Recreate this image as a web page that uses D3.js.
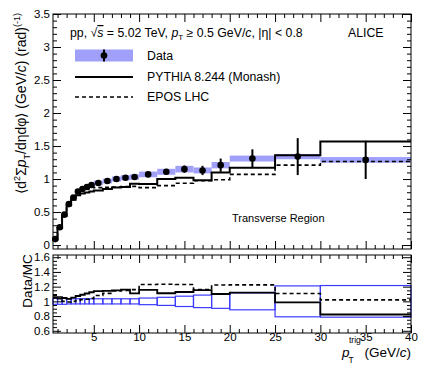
<!DOCTYPE html>
<html>
<head>
<meta charset="utf-8">
<script src="https://cdn.jsdelivr.net/npm/d3@7"></script>
<style>
body { margin: 0; background: #fff; }
svg { font-family: "Liberation Sans", Arial, sans-serif; }
</style>
</head>
<body>
<svg id="chart" width="431" height="371"></svg>
<script>
// pT(trig) bins, GeV/c
var binEdges = [0.5, 1, 1.5, 2, 2.5, 3, 3.5, 4, 4.5, 5, 6, 7, 8, 9, 10, 12, 14, 16, 18, 20, 25, 30, 40];

// data, transverse region
var dataVals = [0.09, 0.27, 0.46, 0.62, 0.72, 0.81, 0.85, 0.88, 0.91, 0.94, 0.97, 1.0, 1.02, 1.03, 1.07, 1.11, 1.15, 1.13, 1.21, 1.31, 1.34, 1.29];
var dataStat = [0.004, 0.004, 0.004, 0.004, 0.004, 0.005, 0.005, 0.006, 0.007, 0.007, 0.009, 0.011, 0.013, 0.016, 0.02, 0.04, 0.055, 0.07, 0.1, 0.14, 0.28, 0.29];
var dataSys = [0.01, 0.012, 0.015, 0.02, 0.022, 0.025, 0.028, 0.03, 0.032, 0.035, 0.036, 0.038, 0.04, 0.04, 0.043, 0.045, 0.05, 0.045, 0.048, 0.045, 0.04, 0.043];

// models
var pythiaVals = [0.085, 0.26, 0.44, 0.60, 0.685, 0.755, 0.78, 0.795, 0.81, 0.825, 0.85, 0.87, 0.88, 0.93, 0.925, 1.0, 1.02, 0.98, 1.10, 1.17, 1.36, 1.57];
var eposVals = [0.083, 0.255, 0.46, 0.625, 0.72, 0.80, 0.83, 0.855, 0.875, 0.87, 0.875, 0.877, 0.887, 0.888, 0.87, 0.90, 0.935, 0.975, 0.99, 1.07, 1.21, 1.265];

// relative total uncertainty shown in ratio panel
var ratioUnc = [0.04, 0.04, 0.04, 0.035, 0.035, 0.035, 0.035, 0.035, 0.035, 0.035, 0.035, 0.035, 0.035, 0.035, 0.045, 0.055, 0.07, 0.085, 0.095, 0.115, 0.21, 0.215];

var mainYTicks = [0, 0.5, 1, 1.5, 2, 2.5, 3, 3.5];
var mainYLabels = ["0", "0.5", "1", "1.5", "2", "2.5", "3", "3.5"];
var ratioYTicks = [0.6, 0.8, 1, 1.2, 1.4, 1.6];
var ratioYLabels = ["0.6", "0.8", "1", "1.2", "1.4", "1.6"];
var xTicks = [5, 10, 15, 20, 25, 30, 35, 40];
var xLabels = ["5", "10", "15", "20", "25", "30", "35", "40"];

var left = 53, right = 411;
var mainTop = 14, mainBottom = 249;
var ratioTop = 255, ratioBottom = 333;

var svg = d3.select("#chart");

var x = d3.scaleLinear().domain([0.5, 40]).range([left, right]);
var yMain = d3.scaleLinear().domain([-0.06, 3.5]).range([mainBottom, mainTop]);
var yRatio = d3.scaleLinear().domain([0.57, 1.63]).range([ratioBottom, ratioTop]);

var bins = dataVals.map((v, i) => ({
    x0: binEdges[i], x1: binEdges[i + 1], xc: (binEdges[i] + binEdges[i + 1]) / 2,
    val: v, stat: dataStat[i], sys: dataSys[i],
    py: pythiaVals[i], ep: eposVals[i], unc: ratioUnc[i]
}));

function stepPoints(vals) {
    var pts = vals.map((v, i) => [binEdges[i], v]);
    pts.push([binEdges[binEdges.length - 1], vals[vals.length - 1]]);
    return pts;
}

// ---- axes helper
function ticks(g, axis) {
    g.call(axis);
    g.select(".domain").remove();
    g.selectAll("line").attr("stroke", "#000");
    g.selectAll("text").attr("fill", "#000").style("font-size", "11.5px");
}

function panelAxes(yScale, top, bottom, yTicks, yLabels, yMinor, showX) {
    // left
    ticks(svg.append("g").attr("transform", `translate(${left},0)`),
        d3.axisLeft(yScale).tickValues(yTicks).tickSize(-8).tickPadding(3)
            .tickFormat((d, i) => yLabels[i]));
    ticks(svg.append("g").attr("transform", `translate(${left},0)`),
        d3.axisLeft(yScale).tickValues(yMinor).tickSize(-4).tickFormat(""));
    // right
    ticks(svg.append("g").attr("transform", `translate(${right},0)`),
        d3.axisRight(yScale).tickValues(yTicks).tickSize(-8).tickFormat(""));
    ticks(svg.append("g").attr("transform", `translate(${right},0)`),
        d3.axisRight(yScale).tickValues(yMinor).tickSize(-4).tickFormat(""));
    var xMinor = d3.range(1, 40).filter(v => v % 5 !== 0);
    // bottom
    ticks(svg.append("g").attr("transform", `translate(0,${bottom})`),
        d3.axisBottom(x).tickValues(xTicks).tickSize(-8).tickPadding(0)
            .tickFormat((d, i) => showX ? xLabels[i] : ""));
    ticks(svg.append("g").attr("transform", `translate(0,${bottom})`),
        d3.axisBottom(x).tickValues(xMinor).tickSize(-4).tickFormat(""));
    // top
    ticks(svg.append("g").attr("transform", `translate(0,${top})`),
        d3.axisTop(x).tickValues(xTicks).tickSize(-8).tickFormat(""));
    ticks(svg.append("g").attr("transform", `translate(0,${top})`),
        d3.axisTop(x).tickValues(xMinor).tickSize(-4).tickFormat(""));

    svg.append("rect")
        .attr("x", left).attr("y", top)
        .attr("width", right - left).attr("height", bottom - top)
        .attr("fill", "none").attr("stroke", "#000").attr("stroke-width", 1);
}

var mainMinor = d3.range(0, 3.51, 0.1).filter(v => Math.abs(v * 2 - Math.round(v * 2)) > 1e-6);
var ratioMinor = d3.range(0.6, 1.61, 0.05).filter(v => Math.abs(v * 5 - Math.round(v * 5)) > 1e-6);

// ---- main panel
var main = svg.append("g");

main.selectAll("rect.sys")
    .data(bins)
    .enter()
    .append("rect")
    .attr("class", "sys")
    .attr("x", d => x(d.x0))
    .attr("width", d => x(d.x1) - x(d.x0))
    .attr("y", d => yMain(d.val + d.sys))
    .attr("height", d => yMain(d.val - d.sys) - yMain(d.val + d.sys))
    .attr("fill", "#a0a0fa");

var line = d3.line().x(d => x(d[0])).y(d => yMain(d[1])).curve(d3.curveStepAfter);

main.append("path")
    .attr("d", line(stepPoints(eposVals)))
    .attr("fill", "none").attr("stroke", "#000").attr("stroke-width", 1.6)
    .attr("stroke-dasharray", "4,3");

main.append("path")
    .attr("d", line(stepPoints(pythiaVals)))
    .attr("fill", "none").attr("stroke", "#000").attr("stroke-width", 2);

main.selectAll("line.err")
    .data(bins)
    .enter()
    .append("line")
    .attr("class", "err")
    .attr("x1", d => x(d.xc)).attr("x2", d => x(d.xc))
    .attr("y1", d => yMain(d.val - d.stat))
    .attr("y2", d => yMain(d.val + d.stat))
    .attr("stroke", "#000").attr("stroke-width", 2);

main.selectAll("circle")
    .data(bins)
    .enter()
    .append("circle")
    .attr("cx", d => x(d.xc))
    .attr("cy", d => yMain(d.val))
    .attr("r", 3.3)
    .attr("fill", "#000");

panelAxes(yMain, mainTop, mainBottom, mainYTicks, mainYLabels, mainMinor, false);

// ---- ratio panel
var ratio = svg.append("g");

ratio.selectAll("rect.unc")
    .data(bins)
    .enter()
    .append("rect")
    .attr("class", "unc")
    .attr("x", d => x(d.x0))
    .attr("width", d => x(d.x1) - x(d.x0))
    .attr("y", d => yRatio(1 + d.unc))
    .attr("height", d => yRatio(1 - d.unc) - yRatio(1 + d.unc))
    .attr("fill", "none")
    .attr("stroke", "#3c3cff").attr("stroke-width", 1.2);

var rline = d3.line().x(d => x(d[0])).y(d => yRatio(d[1])).curve(d3.curveStepAfter);

ratio.append("path")
    .attr("d", rline(stepPoints(bins.map(d => d.val / d.ep))))
    .attr("fill", "none").attr("stroke", "#000").attr("stroke-width", 1.6)
    .attr("stroke-dasharray", "4,3");

ratio.append("path")
    .attr("d", rline(stepPoints(bins.map(d => d.val / d.py))))
    .attr("fill", "none").attr("stroke", "#000").attr("stroke-width", 1.8);

panelAxes(yRatio, ratioTop, ratioBottom, ratioYTicks, ratioYLabels, ratioMinor, true);

// ---- axis titles
var yt = svg.append("text")
    .attr("transform", "translate(26,13) rotate(-90)")
    .attr("text-anchor", "end")
    .style("font-size", "14px");
yt.append("tspan").text("\u27E8d");
yt.append("tspan").attr("dy", -6).style("font-size", "9px").text("2");
yt.append("tspan").attr("dy", 6).text("\u03A3");
yt.append("tspan").style("font-style", "italic").text("p");
yt.append("tspan").attr("dy", 4).style("font-size", "9px").text("T");
yt.append("tspan").attr("dy", -4).text("/d\u03B7d\u03C6\u27E9 (GeV/");
yt.append("tspan").style("font-style", "italic").text("c");
yt.append("tspan").text(") (rad)");
yt.append("tspan").attr("dy", -6).style("font-size", "9px").text("(-1)");

svg.append("text")
    .attr("transform", "translate(31.5,281) rotate(-90)")
    .attr("text-anchor", "middle")
    .style("font-size", "13.5px")
    .text("Data/MC");

svg.append("text").attr("x", 342).attr("y", 357)
    .style("font-size", "13.5px").style("font-style", "italic").text("p");
svg.append("text").attr("x", 349).attr("y", 343)
    .style("font-size", "8.5px").text("trig");
svg.append("text").attr("x", 348.5).attr("y", 363)
    .style("font-size", "8.5px").text("T");
var xt = svg.append("text").attr("x", 411).attr("y", 357)
    .attr("text-anchor", "end").style("font-size", "13.5px");
xt.append("tspan").text("(GeV/");
xt.append("tspan").style("font-style", "italic").text("c");
xt.append("tspan").text(")");

// ---- header & legend
var hd = svg.append("text").attr("x", 70).attr("y", 37).style("font-size", "12.3px");
hd.append("tspan").text("pp, \u221A");
hd.append("tspan").style("font-style", "italic").style("text-decoration", "overline").text("s");
hd.append("tspan").text(" = 5.02 TeV, ");
hd.append("tspan").style("font-style", "italic").text("p");
hd.append("tspan").attr("dy", 3).style("font-size", "8px").text("T");
hd.append("tspan").attr("dy", -3).text(" \u2265 0.5 GeV/");
hd.append("tspan").style("font-style", "italic").text("c");
hd.append("tspan").text(", |\u03B7| < 0.8");

svg.append("text").attr("x", 348).attr("y", 37).style("font-size", "12.3px").text("ALICE");

var lg = svg.append("g");
lg.append("rect").attr("x", 75).attr("y", 49.5).attr("width", 58).attr("height", 12).attr("fill", "#a0a0fa");
lg.append("line").attr("x1", 104).attr("x2", 104).attr("y1", 49.5).attr("y2", 61.5).attr("stroke", "#000").attr("stroke-width", 2);
lg.append("circle").attr("cx", 104).attr("cy", 55.5).attr("r", 3.3).attr("fill", "#000");
lg.append("line").attr("x1", 75).attr("x2", 133).attr("y1", 77).attr("y2", 77).attr("stroke", "#000").attr("stroke-width", 2);
lg.append("line").attr("x1", 75).attr("x2", 133).attr("y1", 97).attr("y2", 97).attr("stroke", "#000").attr("stroke-width", 1.6).attr("stroke-dasharray", "4,3");
lg.append("text").attr("x", 147).attr("y", 60).style("font-size", "12.3px").text("Data");
lg.append("text").attr("x", 147).attr("y", 81).style("font-size", "12.3px").text("PYTHIA 8.244 (Monash)");
lg.append("text").attr("x", 147).attr("y", 101).style("font-size", "12.3px").text("EPOS LHC");

svg.append("text").attr("x", 232).attr("y", 222).style("font-size", "11px").text("Transverse Region");
</script>
</body>
</html>
